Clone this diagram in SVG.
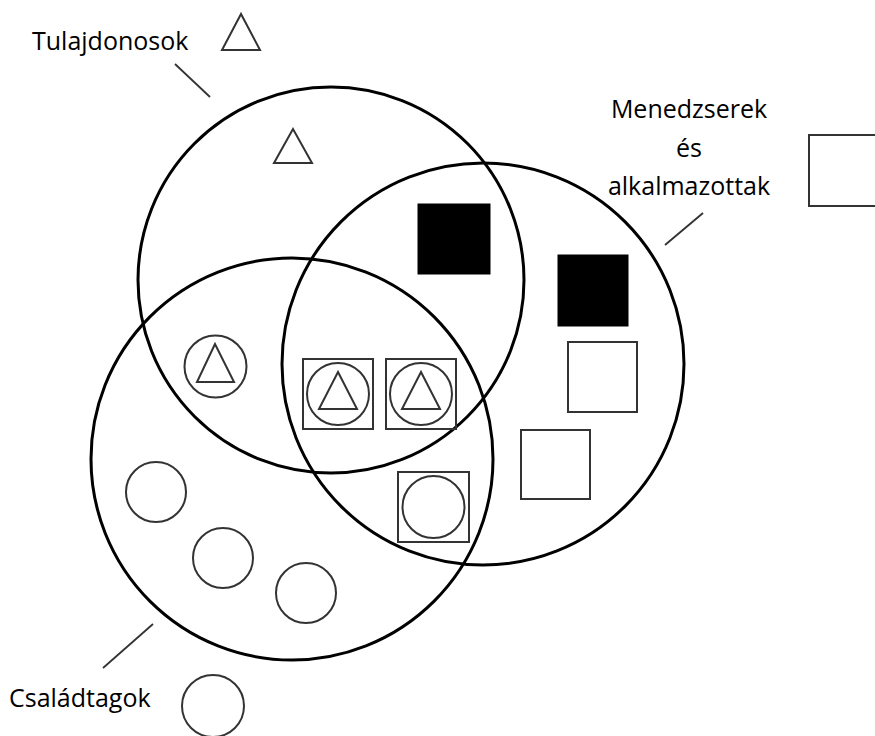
<svg xmlns="http://www.w3.org/2000/svg" width="875" height="736" viewBox="0 0 875 736">
<style>
.big{fill:none;stroke:#000;stroke-width:3}
.sym{fill:none;stroke:#333;stroke-width:2}
.solid{fill:#000;stroke:#000;stroke-width:1}
.lead{fill:none;stroke:#333;stroke-width:1.8}
.lbl{font-family:"Open Sans","Liberation Sans",sans-serif;font-size:25px;fill:#000}
</style>
<rect width="875" height="736" fill="#fff"/>
<g id="tulajdonosok">
<circle class="big" cx="331" cy="280" r="193"/>
</g>
<g id="menedzserek">
<circle class="big" cx="483" cy="364" r="201"/>
</g>
<g id="csaladtagok">
<circle class="big" cx="292" cy="459" r="201"/>
</g>
<g id="connectors">
<line class="lead" x1="175" y1="64" x2="210" y2="97"/>
<line class="lead" x1="703" y1="213" x2="665" y2="245"/>
<line class="lead" x1="153" y1="624" x2="103" y2="668"/>
</g>
<g id="legend-tulajdonosok">
<text class="lbl" x="32" y="50">Tulajdonosok</text>
<polygon class="sym" points="241,14 222,50 260,50"/>
</g>
<g id="legend-menedzserek">
<text class="lbl" x="689" y="118" text-anchor="middle">Menedzserek</text>
<text class="lbl" x="689" y="157" text-anchor="middle">és</text>
<text class="lbl" x="689" y="195" text-anchor="middle">alkalmazottak</text>
<rect class="sym" x="809" y="135" width="72" height="71"/>
</g>
<g id="legend-csaladtagok">
<text class="lbl" x="9" y="707">Családtagok</text>
<circle class="sym" cx="213" cy="706" r="31"/>
</g>
<g id="owner-only">
<polygon class="sym" points="293,129 274,163 312,163"/>
</g>
<g id="manager-squares">
<rect class="solid" x="418" y="204" width="72" height="70"/>
<rect class="solid" x="558" y="255" width="70" height="71"/>
<rect class="sym" x="568" y="342" width="69" height="70"/>
<rect class="sym" x="521" y="430" width="69" height="69"/>
</g>
<g id="owner-family">
<circle class="sym" cx="215.5" cy="366.5" r="31"/>
<polygon class="sym" points="215,344 197,382 234,382"/>
</g>
<g id="all-three-1">
<rect class="sym" x="303" y="359" width="70" height="70"/>
<circle class="sym" cx="338" cy="394" r="31"/>
<polygon class="sym" points="338,372 319,409 357,409"/>
</g>
<g id="all-three-2">
<rect class="sym" x="386" y="359" width="70" height="70"/>
<circle class="sym" cx="421" cy="394" r="31"/>
<polygon class="sym" points="421,372 402,409 440,409"/>
</g>
<g id="manager-family">
<rect class="sym" x="398" y="472" width="71" height="70"/>
<circle class="sym" cx="433.5" cy="507" r="31"/>
</g>
<g id="family-only">
<circle class="sym" cx="156" cy="492" r="30"/>
<circle class="sym" cx="223" cy="558" r="30"/>
<circle class="sym" cx="306" cy="593" r="30"/>
</g>
</svg>
